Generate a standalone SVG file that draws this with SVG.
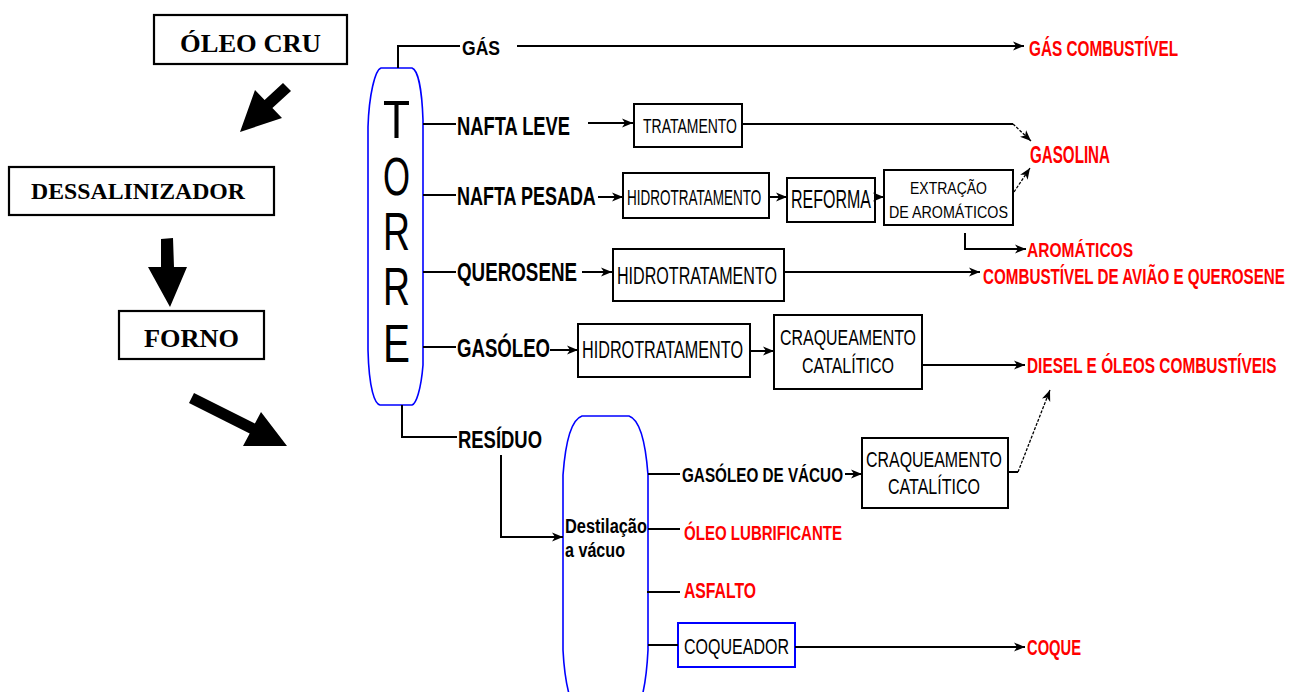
<svg xmlns="http://www.w3.org/2000/svg" width="1293" height="692" viewBox="0 0 1293 692">
<style>
.bx{fill:#fff;stroke:#000;stroke-width:2}
.lb{fill:#fff;stroke:#000;stroke-width:2.2}
.col{fill:#fff;stroke:#0000ff;stroke-width:1.6}
.ln{fill:none;stroke:#000;stroke-width:2}
.dt{fill:none;stroke:#000;stroke-width:1.3;stroke-dasharray:3 1.5}
.ser{font-family:"Liberation Serif",serif;font-weight:bold;fill:#000}
.lab{font-family:"Liberation Sans",Arial,sans-serif;font-weight:bold;fill:#000}
.red{font-family:"Liberation Sans",Arial,sans-serif;font-weight:bold;fill:#ff0000}
.bt{font-family:"Liberation Sans",Arial,sans-serif;fill:#000}
.tor{font-family:"Liberation Sans",Arial,sans-serif;font-size:53px;fill:#000}
</style>
<defs>
<marker id="ah" markerUnits="userSpaceOnUse" markerWidth="12" markerHeight="10" refX="11" refY="5" orient="auto">
<path d="M0,0.5 L11,5 L0,9.5 L3,5 Z" fill="#000"/>
</marker>
</defs>
<rect width="1293" height="692" fill="#fff"/>

<g id="oleo-cru">
<rect class="lb" x="154" y="15" width="193" height="49"/>
<text class="ser" x="180" y="52" font-size="26" textLength="141" lengthAdjust="spacingAndGlyphs">ÓLEO CRU</text>
</g>
<g id="dessalinizador">
<rect class="lb" x="9" y="167" width="265" height="48"/>
<text class="ser" x="31" y="199" font-size="23" textLength="214" lengthAdjust="spacingAndGlyphs">DESSALINIZADOR</text>
</g>
<g id="forno">
<rect class="lb" x="119" y="311" width="145" height="48"/>
<text class="ser" x="144" y="347" font-size="26" textLength="95" lengthAdjust="spacingAndGlyphs">FORNO</text>
</g>

<g id="block-arrows" fill="#000">
<polygon points="283,83 291,91 272.4,108.1 282,118 240,132 255,90 264.6,99.9"/>
<polygon points="161,239 173,238 174,267 187,267 170,307 148,267 161,267"/>
<polygon points="189,403 194,393 254.9,423.5 261,412 287,446 243,446 249.7,433.4"/>
</g>

<g id="torre">
<path class="col" d="M381,68 L412,68 C418,70 422,90 423,120 L423,365 C421,390 416,404 412,405 L380,405 C375,404 369,390 368,350 L368,127 C369,95 375,70 381,68 Z"/>
<text class="tor" x="383" y="138" textLength="27" lengthAdjust="spacingAndGlyphs">T</text>
<text class="tor" x="383" y="195" textLength="27" lengthAdjust="spacingAndGlyphs">O</text>
<text class="tor" x="383" y="250" textLength="27" lengthAdjust="spacingAndGlyphs">R</text>
<text class="tor" x="383" y="305" textLength="27" lengthAdjust="spacingAndGlyphs">R</text>
<text class="tor" x="383" y="362" textLength="27" lengthAdjust="spacingAndGlyphs">E</text>
</g>

<g id="vacuo">
<path class="col" d="M582,416 L629,416 C641,420 646,448 648,475 L648,650 C646,690 640,710 630,722 L582,722 C572,710 565,690 563,650 L563,475 C565,448 570,420 582,416 Z"/>
<text class="lab" x="565" y="533" font-size="20" textLength="82" lengthAdjust="spacingAndGlyphs">Destilação</text>
<text class="lab" x="565" y="557" font-size="20" textLength="60" lengthAdjust="spacingAndGlyphs">a vácuo</text>
</g>

<g id="tratamento">
<rect class="bx" x="634" y="104" width="108" height="43"/>
<text class="bt" x="643" y="133" font-size="20" textLength="94" lengthAdjust="spacingAndGlyphs">TRATAMENTO</text>
</g>
<g id="hidro1">
<rect class="bx" x="623" y="173" width="146" height="45"/>
<text class="bt" transform="translate(627,205) scale(1,1.65)" x="0" y="0" font-size="13.5">HIDROTRATAMENTO</text>
</g>
<g id="reforma">
<rect class="bx" x="787" y="178" width="88" height="44"/>
<text class="bt" transform="translate(791,208) scale(1,1.57)" x="0" y="0" font-size="16">REFORMA</text>
</g>
<g id="extracao">
<rect class="bx" x="884" y="170" width="129" height="55"/>
<text class="bt" x="910" y="194" font-size="17" textLength="77" lengthAdjust="spacingAndGlyphs">EXTRAÇÃO</text>
<text class="bt" x="889" y="218" font-size="17" textLength="119" lengthAdjust="spacingAndGlyphs">DE AROMÁTICOS</text>
</g>
<g id="hidro2">
<rect class="bx" x="613" y="249" width="171" height="52"/>
<text class="bt" x="617" y="284" font-size="23" textLength="160" lengthAdjust="spacingAndGlyphs">HIDROTRATAMENTO</text>
</g>
<g id="hidro3">
<rect class="bx" x="578" y="324" width="172" height="53"/>
<text class="bt" x="582" y="358" font-size="23" textLength="161" lengthAdjust="spacingAndGlyphs">HIDROTRATAMENTO</text>
</g>
<g id="craq1">
<rect class="bx" x="774" y="315" width="148" height="74"/>
<text class="bt" x="780" y="345" font-size="22" textLength="136" lengthAdjust="spacingAndGlyphs">CRAQUEAMENTO</text>
<text class="bt" x="802" y="373" font-size="22" textLength="92" lengthAdjust="spacingAndGlyphs">CATALÍTICO</text>
</g>
<g id="craq2">
<rect class="bx" x="862" y="438" width="146" height="70"/>
<text class="bt" x="866" y="467" font-size="22" textLength="136" lengthAdjust="spacingAndGlyphs">CRAQUEAMENTO</text>
<text class="bt" x="888" y="494" font-size="22" textLength="92" lengthAdjust="spacingAndGlyphs">CATALÍTICO</text>
</g>
<g id="coqueador">
<rect x="678" y="623" width="117" height="44" fill="#fff" stroke="#0000ff" stroke-width="2"/>
<text class="bt" x="684" y="654" font-size="22" textLength="105" lengthAdjust="spacingAndGlyphs">COQUEADOR</text>
</g>

<g id="labels">
<text class="lab" x="462" y="55" font-size="21" textLength="38" lengthAdjust="spacingAndGlyphs">GÁS</text>
<text class="lab" x="457" y="135" font-size="25" textLength="113" lengthAdjust="spacingAndGlyphs">NAFTA LEVE</text>
<text class="lab" transform="translate(457,205) scale(1,1.4)" x="0" y="0" font-size="18">NAFTA PESADA</text>
<text class="lab" x="457" y="281" font-size="25" textLength="120" lengthAdjust="spacingAndGlyphs">QUEROSENE</text>
<text class="lab" x="457" y="357" font-size="25" textLength="93" lengthAdjust="spacingAndGlyphs">GASÓLEO</text>
<text class="lab" x="458" y="448" font-size="23" textLength="84" lengthAdjust="spacingAndGlyphs">RESÍDUO</text>
<text class="lab" x="682" y="482" font-size="21" textLength="161" lengthAdjust="spacingAndGlyphs">GASÓLEO DE VÁCUO</text>
</g>

<g id="produtos">
<text class="red" x="1029" y="56" font-size="22" textLength="149" lengthAdjust="spacingAndGlyphs">GÁS COMBUSTÍVEL</text>
<text class="red" x="1030" y="163" font-size="23" textLength="80" lengthAdjust="spacingAndGlyphs">GASOLINA</text>
<text class="red" x="1027" y="257" font-size="21" textLength="106" lengthAdjust="spacingAndGlyphs">AROMÁTICOS</text>
<text class="red" transform="translate(983,284) scale(1,1.45)" x="0" y="0" font-size="15.2">COMBUSTÍVEL DE AVIÃO E QUEROSENE</text>
<text class="red" transform="translate(1027,373) scale(1,1.45)" x="0" y="0" font-size="15.4">DIESEL E ÓLEOS COMBUSTÍVEIS</text>
<text class="red" x="684" y="540" font-size="21" textLength="158" lengthAdjust="spacingAndGlyphs">ÓLEO LUBRIFICANTE</text>
<text class="red" x="684" y="598" font-size="22" textLength="72" lengthAdjust="spacingAndGlyphs">ASFALTO</text>
<text class="red" x="1027" y="655" font-size="22" textLength="54" lengthAdjust="spacingAndGlyphs">COQUE</text>
</g>

<g id="connectors">
<path class="ln" d="M398,68 V46 H460"/>
<path class="ln" d="M517,46 H1024" marker-end="url(#ah)"/>
<path class="ln" d="M423,124 H456"/>
<path class="ln" d="M588,123 H633" marker-end="url(#ah)"/>
<path class="ln" d="M742,124 H1013"/>
<path class="dt" d="M1013,124 L1031,141" marker-end="url(#ah)"/>
<path class="ln" d="M423,195 H456"/>
<path class="ln" d="M598,197 H623" marker-end="url(#ah)"/>
<path class="ln" d="M769,197 H787" marker-end="url(#ah)"/>
<path class="ln" d="M875,197 H884" marker-end="url(#ah)"/>
<path class="dt" d="M1014,192 L1030,168" marker-end="url(#ah)"/>
<path class="ln" d="M965,233 V249 H1026" marker-end="url(#ah)"/>
<path class="ln" d="M423,272 H456"/>
<path class="ln" d="M582,272 H612" marker-end="url(#ah)"/>
<path class="ln" d="M784,272 H980" marker-end="url(#ah)"/>
<path class="ln" d="M423,347 H456"/>
<path class="ln" d="M550,350 H578" marker-end="url(#ah)"/>
<path class="ln" d="M750,351 H774" marker-end="url(#ah)"/>
<path class="ln" d="M922,365 H1025" marker-end="url(#ah)"/>
<path class="ln" d="M402,405 V437 H457"/>
<path class="ln" d="M501,455 V537 H563" marker-end="url(#ah)"/>
<path class="ln" d="M648,474 H680"/>
<path class="ln" d="M648,529 H680"/>
<path class="ln" d="M647,592 H680"/>
<path class="ln" d="M648,645 H678"/>
<path class="ln" d="M845,474 H862" marker-end="url(#ah)"/>
<path class="ln" d="M1008,472 H1018"/>
<path class="dt" d="M1018,472 L1050,390" marker-end="url(#ah)"/>
<path class="ln" d="M795,647 H1025" marker-end="url(#ah)"/>
</g>
</svg>
